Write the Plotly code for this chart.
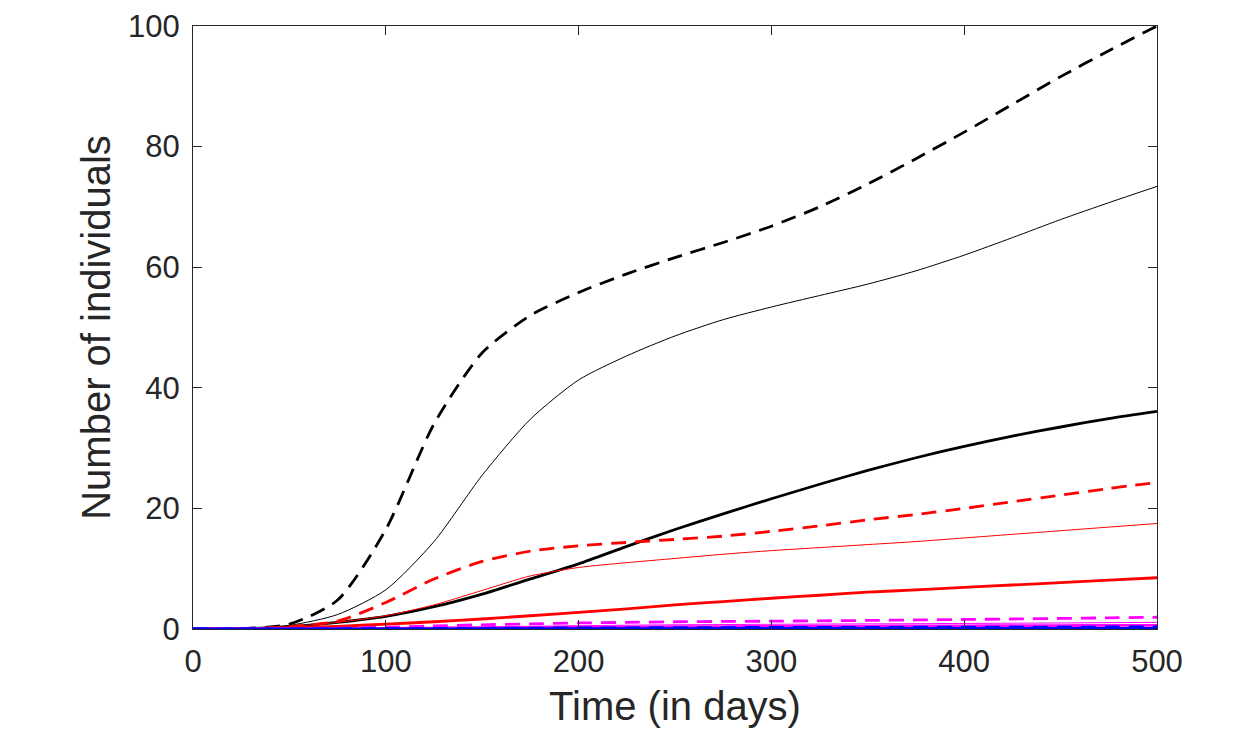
import plotly.graph_objects as go

# Time grid (days)
t = [0, 25, 50, 75, 100, 125, 150, 175, 200, 225, 250, 275, 300, 325, 350, 375, 400, 425, 450, 475, 500]

# Black series
black_dashed = [0, 0.05, 0.8, 4.8, 16.5, 34.0, 45.8, 52.0, 55.8, 58.9, 61.6, 64.1, 66.8, 70.0, 73.8, 78.0, 82.4, 87.0, 91.6, 95.9, 100.0]
black_thin   = [0, 0.05, 0.6, 2.4, 6.5, 14.5, 25.5, 34.8, 41.3, 45.3, 48.6, 51.3, 53.4, 55.3, 57.2, 59.4, 62.0, 64.9, 67.9, 70.7, 73.4]
black_thick  = [0, 0.05, 0.4, 1.1, 2.1, 3.7, 5.8, 8.3, 10.8, 13.7, 16.5, 19.1, 21.6, 24.0, 26.3, 28.4, 30.3, 32.0, 33.5, 34.9, 36.1]

# Red series
red_dashed = [0, 0.03, 0.4, 1.3, 4.4, 8.3, 11.2, 12.9, 13.8, 14.35, 14.85, 15.4, 16.2, 17.1, 18.1, 19.0, 20.0, 21.1, 22.2, 23.3, 24.3]
red_thin   = [0, 0.05, 0.4, 1.1, 2.2, 4.0, 6.4, 8.8, 10.2, 11.0, 11.7, 12.4, 13.0, 13.5, 14.0, 14.5, 15.1, 15.7, 16.3, 16.9, 17.5]
red_thick  = [0, 0.02, 0.15, 0.45, 0.8, 1.2, 1.66, 2.2, 2.75, 3.35, 4.0, 4.55, 5.1, 5.6, 6.1, 6.5, 6.9, 7.3, 7.7, 8.1, 8.5]

# Magenta series
magenta_dashed = [0, 0.01, 0.05, 0.15, 0.3, 0.5, 0.7, 0.85, 1.0, 1.1, 1.2, 1.25, 1.3, 1.35, 1.42, 1.5, 1.58, 1.66, 1.75, 1.85, 1.95]
magenta_thin   = [0, 0.01, 0.03, 0.08, 0.15, 0.25, 0.35, 0.45, 0.55, 0.63, 0.7, 0.74, 0.78, 0.82, 0.85, 0.88, 0.92, 0.96, 1.0, 1.05, 1.1]
magenta_thick  = [0, 0.0, 0.02, 0.05, 0.1, 0.15, 0.2, 0.25, 0.3, 0.34, 0.38, 0.41, 0.44, 0.47, 0.49, 0.51, 0.53, 0.55, 0.57, 0.59, 0.6]

# Blue series
blue_dashed = [0, 0.0, 0.01, 0.03, 0.06, 0.09, 0.12, 0.15, 0.18, 0.2, 0.22, 0.24, 0.26, 0.27, 0.28, 0.29, 0.3, 0.31, 0.32, 0.33, 0.35]
blue_thin   = [0, 0.0, 0.01, 0.02, 0.04, 0.06, 0.08, 0.1, 0.11, 0.12, 0.13, 0.14, 0.15, 0.16, 0.16, 0.17, 0.17, 0.18, 0.18, 0.19, 0.2]
blue_thick  = [0, 0.0, 0.0, 0.01, 0.02, 0.03, 0.04, 0.05, 0.06, 0.07, 0.07, 0.08, 0.08, 0.09, 0.09, 0.1, 0.1, 0.11, 0.11, 0.12, 0.12]

x_ticks = [0, 100, 200, 300, 400, 500]
y_ticks = [0, 20, 40, 60, 80, 100]

series = [
    (black_dashed, "#000000", "dashed"),
    (black_thin, "#000000", "thin"),
    (black_thick, "#000000", "thick"),
    (red_dashed, "#FF0000", "dashed"),
    (red_thin, "#FF0000", "thin"),
    (red_thick, "#FF0000", "thick"),
    (magenta_dashed, "#FF00FF", "dashed"),
    (magenta_thin, "#FF00FF", "thin"),
    (magenta_thick, "#FF00FF", "thick"),
    (blue_dashed, "#0000FF", "dashed"),
    (blue_thin, "#0000FF", "thin"),
    (blue_thick, "#0000FF", "thick"),
]

styles = {
    "dashed": dict(width=2.8, dash="15px,9px"),
    "thin": dict(width=1.0, dash="solid"),
    "thick": dict(width=2.8, dash="solid"),
}

fig = go.Figure()
for vals, color, kind in series:
    fig.add_trace(go.Scatter(
        x=t, y=vals, mode="lines",
        line=dict(color=color, shape="spline", smoothing=0.7, **styles[kind]),
        showlegend=False, hoverinfo="skip",
    ))

font_family = "Liberation Sans, Arial, sans-serif"
axis_common = dict(
    showline=True, linecolor="#262626", linewidth=1, mirror="ticks",
    ticks="inside", ticklen=9, tickwidth=1, tickcolor="#262626",
    showgrid=False, zeroline=False, automargin=False,
    tickfont=dict(family=font_family, size=31, color="#262626"),
)

fig.update_layout(
    width=1245, height=740,
    paper_bgcolor="white", plot_bgcolor="white",
    margin=dict(l=185, r=96, t=18, b=119),
    xaxis=dict(range=[0, 500], tickvals=x_ticks, ticktext=[str(v) for v in x_ticks],
               ticklabelstandoff=5,
               title=dict(text="Time (in days)", standoff=13,
                          font=dict(family=font_family, size=40, color="#262626")),
               **axis_common),
    yaxis=dict(range=[0, 100], tickvals=y_ticks, ticktext=[str(v) for v in y_ticks],
               ticklabelstandoff=6,
               title=dict(text="Number of individuals", standoff=5,
                          font=dict(family=font_family, size=40, color="#262626")),
               **axis_common),
)

fig.write_html("out.html")
